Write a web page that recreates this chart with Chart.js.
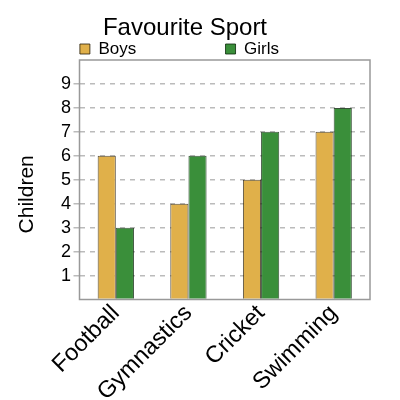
<!DOCTYPE html>
<html>
<head>
<meta charset="utf-8">
<script src="https://cdn.jsdelivr.net/npm/chart.js@4"></script>
<style>
  html, body { margin: 0; padding: 0; background: #fff; }
  #wrap { width: 400px; height: 400px; }
</style>
</head>
<body>
<div id="wrap"><canvas id="chart" width="400" height="400"></canvas></div>
<script>
// Data
const sports = ['Football', 'Gymnastics', 'Cricket', 'Swimming'];
const boys = [6, 4, 5, 7];
const girls = [3, 6, 7, 8];
const yTicks = [1, 2, 3, 4, 5, 6, 7, 8, 9];
const yMax = 10;

const FONT = 'Liberation Sans, Arial, sans-serif';

// box around the plot area
const frame = {
    id: 'frame',
    afterDraw(chart) {
        const { ctx, chartArea: a } = chart;
        ctx.save();
        ctx.strokeStyle = '#999';
        ctx.lineWidth = 1.5;
        ctx.strokeRect(a.left, a.top, a.right - a.left, a.bottom - a.top);
        ctx.restore();
    }
};

// blank legend item used to push the real ones into place
function spacer(n) {
    return {
        text: ' '.repeat(n),
        fillStyle: 'rgba(0,0,0,0)',
        strokeStyle: 'rgba(0,0,0,0)',
        lineWidth: 0,
        hidden: false
    };
}

new Chart(document.getElementById('chart'), {
    type: 'bar',
    data: {
        labels: sports,
        datasets: [
            {
                label: 'Boys',
                data: boys,
                backgroundColor: '#E0B04A',
                borderColor: 'rgba(40,30,10,0.8)',
                borderWidth: 1
            },
            {
                label: 'Girls',
                data: girls,
                backgroundColor: '#3A8F3A',
                borderColor: 'rgba(10,40,10,0.8)',
                borderWidth: 1
            }
        ]
    },
    options: {
        responsive: false,
        animation: false,
        layout: { padding: { left: 0, right: 30, top: 0, bottom: 0 } },
        categoryPercentage: 0.5,
        barPercentage: 1,
        plugins: {
            title: {
                display: true,
                text: 'Favourite Sport',
                color: '#000',
                font: { family: FONT, size: 24, weight: 'normal', lineHeight: 1 },
                padding: { top: 16.5, bottom: 0 }
            },
            legend: {
                display: true,
                align: 'start',
                maxHeight: 19.5,
                onClick: () => {},
                labels: {
                    color: '#000',
                    font: { family: FONT, size: 17 },
                    boxWidth: 10,
                    boxHeight: 10,
                    padding: 0,
                    generateLabels(chart) {
                        const items = Chart.defaults.plugins.legend.labels.generateLabels(chart);
                        return [spacer(13), items[0], spacer(15), items[1]];
                    }
                }
            },
            tooltip: { enabled: false }
        },
        scales: {
            x: {
                afterFit(scale) { scale.height = 100.5; },
                grid: { display: false, drawTicks: false },
                border: { display: false },
                ticks: {
                    color: '#000',
                    font: { family: FONT, size: 23.5 },
                    minRotation: 45,
                    maxRotation: 45,
                    autoSkip: false,
                    padding: 0
                }
            },
            y: {
                min: 0,
                max: yMax,
                afterFit(scale) { scale.width = 79.5; },
                title: {
                    display: true,
                    text: 'Children     ',
                    color: '#000',
                    font: { family: FONT, size: 21, lineHeight: 1.2 },
                    padding: { top: 14.4, bottom: 0 }
                },
                grid: {
                    color: (c) => (yTicks.includes(c.tick && c.tick.value) ? '#bbb' : 'rgba(0,0,0,0)'),
                    lineWidth: 1.5,
                    tickLength: 6
                },
                border: { display: false, dash: [5, 5] },
                ticks: {
                    stepSize: 1,
                    autoSkip: false,
                    color: '#000',
                    font: { family: FONT, size: 18 },
                    padding: 2.5,
                    callback: (v) => (yTicks.includes(v) ? String(v) : '')
                }
            }
        }
    },
    plugins: [frame]
});
</script>
</body>
</html>
